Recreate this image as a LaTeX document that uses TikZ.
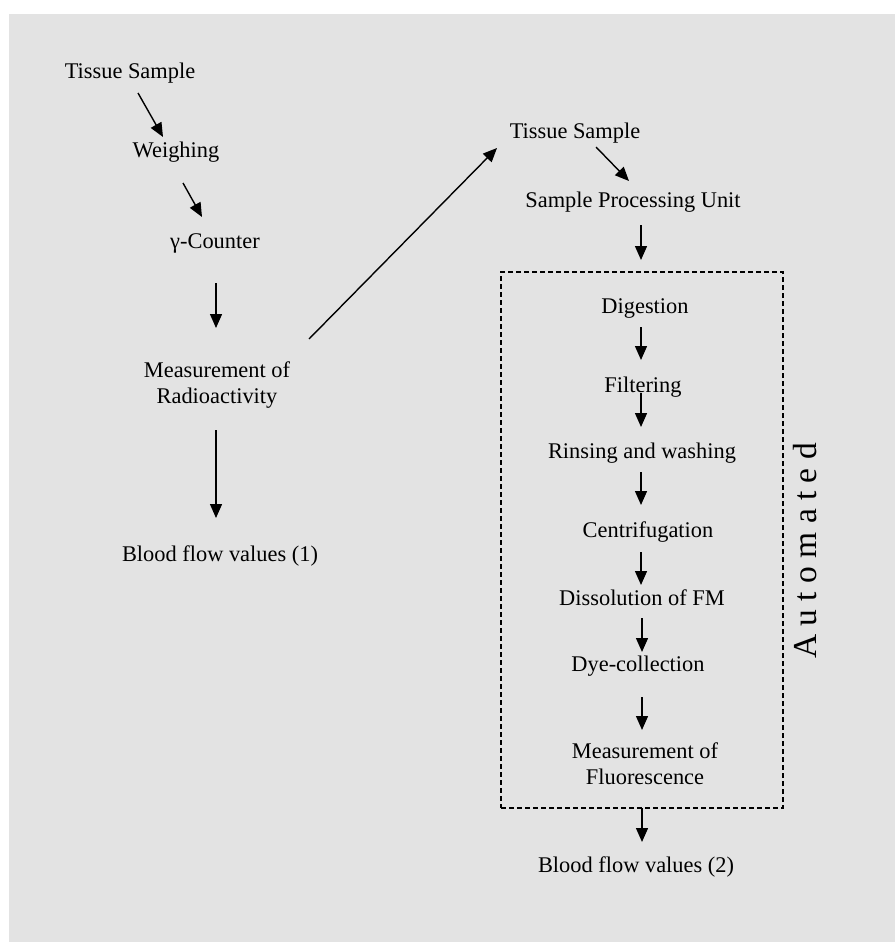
\documentclass[tikz,border=0pt]{standalone}
\usepackage{fontspec}
\setmainfont{Liberation Serif}
\usetikzlibrary{arrows.meta,calc}
\definecolor{bggray}{RGB}{227,227,227}
\tikzset{
  lbl/.style={inner sep=0pt, align=center, font=\fontsize{22.4}{26}\selectfont},
  arr/.style={line width=1.4pt, -{Triangle[length=14pt,width=12pt]}},
  dbox/.style={draw, line width=1.4pt, dash pattern=on 5pt off 3pt, inner sep=0pt}
}
\begin{document}
\begin{tikzpicture}[x=1pt,y=-1pt]
\useasboundingbox (0,0) rectangle (895,942);
\fill[white] (0,0) rectangle (895,942);
\fill[bggray] (9,14) rectangle (895,942);
% left column
\node[lbl] (ts1) at (130,73) {Tissue Sample};
\node[lbl] (wei) at (176,152) {Weighing};
\node[lbl] (gam) at (215,243) {γ-Counter};
\node[lbl] (mrad) at (217,385) {Measurement of\\Radioactivity};
\node[lbl] (bf1) at (220,556) {Blood flow values (1)};
% right column
\node[lbl] (ts2) at (575,133) {Tissue Sample};
\node[lbl] (spu) at (633,202) {Sample Processing Unit};
\node[dbox, minimum width=282pt, minimum height=536pt] (box) at (642,540) {};
\node[lbl] (dig) at (645,308) {Digestion};
\node[lbl] (fil) at (643,387) {Filtering};
\node[lbl] (rin) at (642,453) {Rinsing and washing};
\node[lbl] (cen) at (648,532) {Centrifugation};
\node[lbl] (dis) at (642,598) {Dissolution of FM};
\node[lbl] (dye) at (638,666) {Dye-collection};
\node[lbl] (mfl) at (645,764) {Measurement of\\Fluorescence};
\node[lbl] (bf2) at (636,867) {Blood flow values (2)};
\node[inner sep=0pt, rotate=90, font=\fontsize{33.5}{36}\selectfont] (aut) at (805,551) {A u t o m a t e d};
% left arrows
\draw[arr] ($(ts1)+(8,20)$) -- ($(wei)+(-13,-15)$);
\draw[arr] ($(wei)+(7,31)$) -- ($(gam)+(-13,-26)$);
\draw[arr] ($(gam)+(1,40)$) -- ($(mrad)+(-1,-57)$);
\draw[arr] ($(mrad)+(-1,45)$) -- ($(bf1)+(-4,-38)$);
\draw[arr] ($(mrad)+(92,-46)$) -- ($(ts2)+(-78,15)$);
% right arrows
\draw[arr] ($(ts2)+(21,14)$) -- ($(spu)+(-4,-21)$);
\draw[arr] ($(spu)+(8,23)$) -- ($(dig)+(-4,-48)$);
\draw[arr] ($(dig)+(-4,19)$) -- ($(fil)+(-2,-27)$);
\draw[arr] ($(fil)+(-2,6)$) -- ($(rin)+(-1,-26)$);
\draw[arr] ($(rin)+(-1,19)$) -- ($(cen)+(-7,-27)$);
\draw[arr] ($(cen)+(-7,20)$) -- ($(dis)+(-1,-13)$);
\draw[arr] ($(dis)+(0,20)$) -- ($(dye)+(4,-14)$);
\draw[arr] ($(dye)+(4,31)$) -- ($(mfl)+(-3,-34)$);
\draw[arr] ($(mfl)+(-3,44)$) -- ($(bf2)+(6,-25)$);
\end{tikzpicture}
\end{document}
